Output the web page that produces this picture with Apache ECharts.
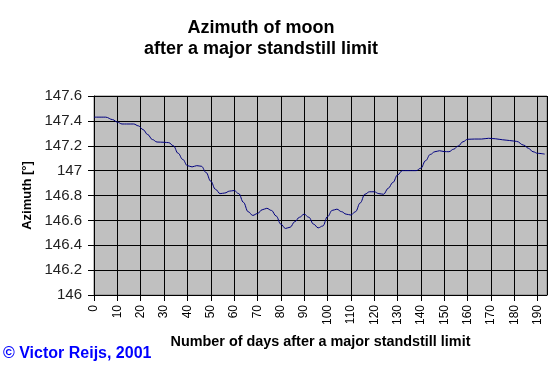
<!DOCTYPE html>
<html>
<head>
<meta charset="utf-8">
<script src="https://cdn.jsdelivr.net/npm/echarts@6/dist/echarts.min.js"></script>
<style>html,body{margin:0;padding:0;background:#fff;}#c{width:560px;height:366px;}</style>
</head>
<body>
<div id="c"></div>
<script>
var titleLines = ['Azimuth of moon', 'after a major standstill limit'];
var xName = 'Number of days after a major standstill limit';
var yName = 'Azimuth [°]';
var credit = '© Victor Reijs, 2001';

var days = [0, 5, 8, 10, 12, 14, 17, 19, 21, 23, 25, 27, 30, 32, 34, 36, 38, 40, 42, 44, 46, 48, 50, 52, 54, 56, 58, 60, 62, 64, 66, 68, 70, 72, 74, 76, 78, 80, 82, 84, 86, 88, 90, 92, 94, 96, 98, 100, 102, 104, 106, 108, 110, 112, 114, 116, 118, 120, 122, 124, 126, 128, 130, 132, 134, 136, 138, 140, 142, 144, 146, 148, 150, 152, 154, 156, 158, 160, 163, 166, 169, 172, 175, 178, 181, 184, 186, 188, 190, 193];
var azimuth = [147.43, 147.43, 147.41, 147.39, 147.375, 147.375, 147.375, 147.36, 147.33, 147.29, 147.25, 147.23, 147.228, 147.225, 147.20, 147.14, 147.09, 147.04, 147.03, 147.04, 147.035, 146.985, 146.915, 146.85, 146.815, 146.82, 146.835, 146.84, 146.815, 146.745, 146.67, 146.64, 146.655, 146.685, 146.697, 146.68, 146.635, 146.57, 146.535, 146.545, 146.59, 146.625, 146.65, 146.625, 146.57, 146.54, 146.555, 146.63, 146.68, 146.69, 146.67, 146.65, 146.643, 146.67, 146.74, 146.81, 146.83, 146.83, 146.815, 146.81, 146.858, 146.905, 146.965, 147.0, 147.0, 147.0, 147.0, 147.02, 147.08, 147.13, 147.152, 147.16, 147.153, 147.152, 147.172, 147.198, 147.232, 147.252, 147.254, 147.254, 147.26, 147.256, 147.248, 147.242, 147.235, 147.205, 147.18, 147.152, 147.139, 147.133];

var xMin = 0, xMax = 194, xStep = 10;
var yMin = 146, yMax = 147.6, yStep = 0.2;

var data = days.map(function (d, i) { return [d, azimuth[i]]; });
var font = 'Liberation Sans, Arial, sans-serif';

var chart = echarts.init(document.getElementById('c'), null, {renderer: 'canvas'});
chart.setOption({
  animation: false,
  backgroundColor: '#ffffff',
  graphic: [
    {type: 'text', x: 261, y: 28, style: {text: titleLines[0], font: 'bold 18px ' + font, fill: '#000', align: 'center', verticalAlign: 'middle'}},
    {type: 'text', x: 261, y: 49, style: {text: titleLines[1], font: 'bold 18px ' + font, fill: '#000', align: 'center', verticalAlign: 'middle'}},
    {type: 'text', x: 3, y: 354, style: {text: credit, font: 'bold 16px ' + font, fill: '#0000ff', align: 'left', verticalAlign: 'middle'}}
  ],
  grid: {
    left: 94, right: 13, top: 96, bottom: 71,
    show: true, backgroundColor: '#c0c0c0', borderColor: '#808080', borderWidth: 1,
    containLabel: false
  },
  xAxis: {
    type: 'value', min: xMin, max: xMax, interval: xStep,
    name: xName, nameLocation: 'middle', nameGap: 40,
    nameTextStyle: {fontFamily: font, fontWeight: 'bold', fontSize: 14.4, color: '#000'},
    axisLine: {show: true, onZero: false, lineStyle: {color: '#000', width: 1}},
    axisTick: {show: true, inside: false, length: 6, lineStyle: {color: '#000'}},
    axisLabel: {rotate: 90, margin: 10, fontFamily: font, fontSize: 12, color: '#000', showMaxLabel: false},
    splitLine: {show: true, lineStyle: {color: '#000', width: 1}}
  },
  yAxis: {
    type: 'value', min: yMin, max: yMax, interval: yStep,
    name: yName, nameLocation: 'middle', nameGap: 60, nameRotate: 90,
    nameTextStyle: {fontFamily: font, fontWeight: 'bold', fontSize: 13, color: '#000'},
    axisLine: {show: true, lineStyle: {color: '#000', width: 1}},
    axisTick: {show: true, inside: false, length: 6, lineStyle: {color: '#000'}},
    axisLabel: {margin: 12, fontFamily: font, fontSize: 15, color: '#222',
      formatter: function (v) { return String(Math.round(v * 10) / 10); }},
    splitLine: {show: true, lineStyle: {color: '#000', width: 1}}
  },
  series: [{
    type: 'line', data: data, showSymbol: false, symbol: 'none',
    smooth: 0.4, smoothMonotone: 'x',
    lineStyle: {color: '#000080', width: 1}
  }]
});
</script>
</body>
</html>
